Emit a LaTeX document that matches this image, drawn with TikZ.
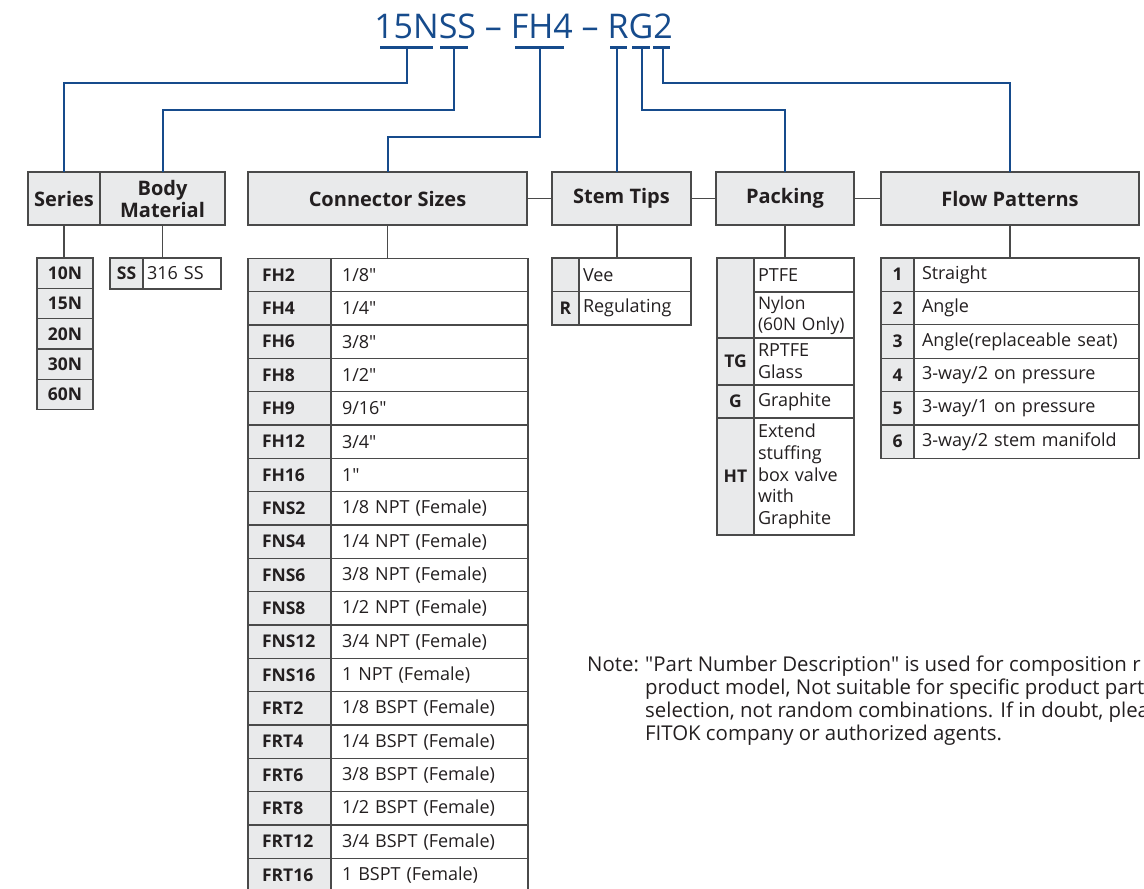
\documentclass[tikz,border=0pt]{standalone}
\usepackage{fontspec}
\setmainfont{Open Sans}[Ligatures=TeXOff]
\definecolor{tblue}{HTML}{164B8C}
\definecolor{lgray}{HTML}{E9EAEB}
\definecolor{bgray}{HTML}{4A4A4A}
\definecolor{txt}{HTML}{231F20}
\newcommand\qq{\char34\relax}
\newcommand\myhdrfont{\fontsize{20}{22}\selectfont\bfseries}
\newcommand\mycodefont{\fontsize{17.5}{20}\selectfont\bfseries}
\newcommand\myvalfont{\fontsize{18}{21.7}\selectfont}
\newcommand\mynotefont{\fontsize{20.4}{23.3}\selectfont}
\tikzset{
  frame/.style={draw=bgray, line width=1.3pt, inner sep=0pt, outer sep=0pt, anchor=north west, text=txt},
  hdr/.style={frame, line width=1.6pt, fill=lgray, font=\myhdrfont, align=center, minimum height=53},
  codecell/.style={frame, fill=lgray, font=\mycodefont, align=center},
  valcell/.style={frame, fill=white, font=\myvalfont, align=left},
  wire/.style={draw=tblue, line width=2pt},
  bar/.style={draw=tblue, line width=2.6pt},
  link/.style={draw=bgray, line width=1.3pt},
}
\begin{document}
\begin{tikzpicture}[x=1pt,y=-1pt]
\useasboundingbox (0,0) rectangle (1144,889);
\clip (0,0) rectangle (1144,889);

% title
\node[anchor=base, text=tblue, font=\fontsize{34}{36}\selectfont, inner sep=0pt] (title) at (523.5,38) {15NSS – FH4 – RG2};

% header boxes
\node[hdr, minimum width=72] (series) at (28,172) {Series};
\node[hdr, minimum width=125] (body) at (100,172) {Body\\Material};
\node[hdr, minimum width=279] (conn) at (248,172) {Connector Sizes};
\node[hdr, minimum width=139] (stem) at (552,172) {Stem Tips};
\node[hdr, minimum width=138] (pack) at (716,172) {Packing};
\node[hdr, minimum width=258] (flow) at (881,172) {Flow Patterns};

\draw[link] (conn.east) -- (stem.west);
\draw[link] (stem.east) -- (pack.west);
\draw[link] (pack.east) -- (flow.west);

% title bars and blue connectors
\coordinate (a1) at (380,47.5); \coordinate (z1) at (433,47.5); \coordinate (v1) at (407,47.5);
\coordinate (a2) at (440,47.5); \coordinate (z2) at (468,47.5); \coordinate (v2) at (454,47.5);
\coordinate (a3) at (515,47.5); \coordinate (z3) at (564,47.5); \coordinate (v3) at (540,47.5);
\coordinate (a4) at (610,47.5); \coordinate (z4) at (627,47.5); \coordinate (v4) at (617,47.5);
\coordinate (a5) at (632,47.5); \coordinate (z5) at (650,47.5); \coordinate (v5) at (642,47.5);
\coordinate (a6) at (653,47.5); \coordinate (z6) at (670,47.5); \coordinate (v6) at (663,47.5);
\foreach \k in {1,...,6} { \draw[bar] (a\k) -- (z\k); }
\draw[wire] (v1) -- ++(0,35.5) -| (series.north);
\draw[wire] (v2) -- ++(0,62.5) -| (body.north);
\draw[wire] (v3) -- ++(0,89.5) -| (conn.north);
\draw[wire] (v4) -- (v4 |- stem.north);
\draw[wire] (v5) -- ++(0,62.5) -| (pack.north);
\draw[wire] (v6) -- ++(0,35.5) -| (flow.north);

% Series table
\foreach \s [count=\i from 0] in {10N,15N,20N,30N,60N} {
  \node[codecell, minimum width=56, minimum height=30.33] (ser\i) at (37,258+\i*30.33) {\s};
}
\draw[link] (series.south) -- (series.south |- ser0.north);

% Body material table
\node[codecell, minimum width=33, minimum height=31] (ssc) at (110,258) {SS};
\node[valcell, minimum width=78, text width=70, inner xsep=4, minimum height=31] (ssv) at (143,258) {316 SS};
\draw[link] (body.south) -- (body.south |- ssv.north);

% Connector sizes table
\foreach \c/\v [count=\i from 0] in {FH2/{1/8\qq},FH4/{1/4\qq},FH6/{3/8\qq},FH8/{1/2\qq},FH9/{9/16\qq},FH12/{3/4\qq},FH16/{1\qq},
  FNS2/{1/8 NPT (Female)},FNS4/{1/4 NPT (Female)},FNS6/{3/8 NPT (Female)},FNS8/{1/2 NPT (Female)},FNS12/{3/4 NPT (Female)},FNS16/{1 NPT (Female)},
  FRT2/{1/8 BSPT (Female)},FRT4/{1/4 BSPT (Female)},FRT6/{3/8 BSPT (Female)},FRT8/{1/2 BSPT (Female)},FRT12/{3/4 BSPT (Female)},FRT16/{1 BSPT (Female)}} {
  \node[codecell, align=left, minimum width=83, text width=55, inner xsep=14, minimum height=33.33] (cc\i) at (248,258.33+\i*33.33) {\c};
  \node[valcell, minimum width=197, text width=175, inner xsep=11, minimum height=33.33] (cv\i) at (331,258.33+\i*33.33) {\v};
}
\draw[link] (conn.south) -- (conn.south |- cv0.north);

% Stem tips table
\node[codecell, minimum width=27, minimum height=33.5] (stc0) at (552,258) {};
\node[valcell, minimum width=112, text width=104, inner xsep=4, minimum height=33.5] (stv0) at (579,258) {Vee};
\node[codecell, minimum width=27, minimum height=33.5] (stc1) at (552,291.5) {R};
\node[valcell, minimum width=112, text width=104, inner xsep=4, minimum height=33.5] (stv1) at (579,291.5) {Regulating};
\draw[link] (v4 |- stem.south) -- (v4 |- stv0.north);

% Packing table
\node[codecell, minimum width=37, minimum height=80] (pc0) at (717,258) {};
\node[codecell, minimum width=37, minimum height=47] (pc1) at (717,338) {TG};
\node[codecell, minimum width=37, minimum height=33] (pc2) at (717,385) {G};
\node[codecell, minimum width=37, minimum height=117] (pc3) at (717,418) {HT};
\node[valcell, minimum width=100, text width=92, inner xsep=4, minimum height=34] (pv0) at (754,258) {PTFE};
\node[valcell, minimum width=100, text width=92, inner xsep=4, minimum height=46, font=\fontsize{17.4}{21}\selectfont] (pv1) at (754,292) {Nylon\\\mbox{(60N Only)}};
\node[valcell, minimum width=100, text width=92, inner xsep=4, minimum height=47] (pv2) at (754,338) {RPTFE\\Glass};
\node[valcell, minimum width=100, text width=92, inner xsep=4, minimum height=33] (pv3) at (754,385) {Graphite};
\node[valcell, minimum width=100, text width=92, inner xsep=4, minimum height=117] (pv4) at (754,418) {Extend\\stuffing\\box valve\\with\\Graphite};
\draw[link] (pack.south) -- (pack.south |- pv0.north);

% Flow patterns table
\foreach \c/\v [count=\i from 0] in {1/Straight,2/Angle,3/{Angle(replaceable seat)},4/{3-way/2 on pressure},5/{3-way/1 on pressure},6/{3-way/2 stem manifold}} {
  \node[codecell, minimum width=33, minimum height=33.4] (fc\i) at (881,258+\i*33.4) {\c};
  \node[valcell, minimum width=225, text width=209, inner xsep=8, minimum height=33.4] (fv\i) at (914,258+\i*33.4) {\v};
}
\draw[link] (flow.south) -- (flow.south |- fv0.north);

% Note
\node[anchor=base west, inner sep=0pt, text=txt, font=\mynotefont] (note) at (587,671) {%
\begin{tabular}[t]{@{}p{58pt}@{}l@{}}
Note: & \qq Part Number Description\qq{} is used for composition r\\
 & product model, Not suitable for specific product part\\
 & selection, not random combinations. If in doubt, plea\\
 & FITOK company or authorized agents.
\end{tabular}};
\end{tikzpicture}
\end{document}
